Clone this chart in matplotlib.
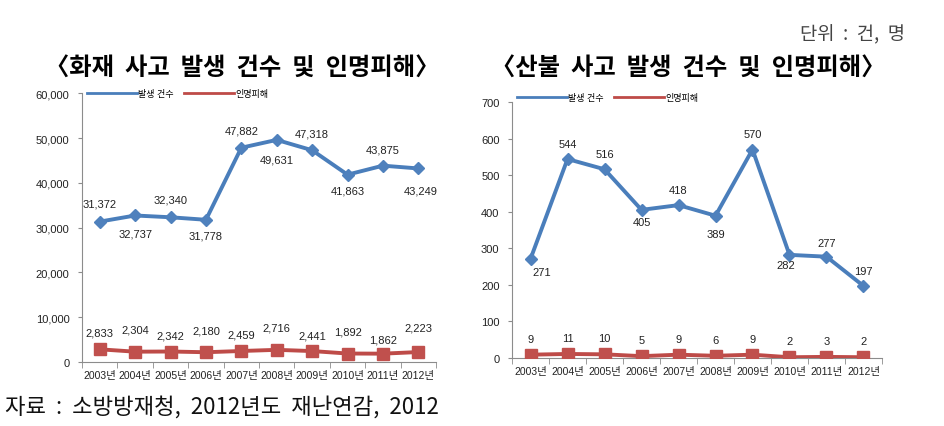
import numpy as np
import matplotlib
matplotlib.use("Agg")
import matplotlib.pyplot as plt
from matplotlib.lines import Line2D

plt.rcParams['font.family'] = ['Liberation Sans', 'Noto Sans CJK KR', 'DejaVu Sans']

years = ["2003년", "2004년", "2005년", "2006년", "2007년",
         "2008년", "2009년", "2010년", "2011년", "2012년"]

# 화재
fire_cases = [31372, 32737, 32340, 31778, 47882, 49631, 47318, 41863, 43875, 43249]
fire_victims = [2833, 2304, 2342, 2180, 2459, 2716, 2441, 1892, 1862, 2223]

# 산불
forest_cases = [271, 544, 516, 405, 418, 389, 570, 282, 277, 197]
forest_victims = [9, 11, 10, 5, 9, 6, 9, 2, 3, 2]

# label offsets (pixels)
fire_case_off = [(0, 18), (0, -18), (0, 18), (0, -16), (0, 17),
                 (0, -20), (0, 17), (0, -16), (0, 16), (2, -22)]
fire_vic_off = [(0, 17), (0, 22), (0, 16), (0, 22), (0, 16),
                (0, 22), (0, 16), (0, 22), (0, 14), (0, 25)]
forest_case_off = [(11, -13), (0, 15), (0, 15), (0, -12), (0, 15),
                   (0, -18), (0, 16), (-4, -10), (0, 14), (0, 15)]
forest_vic_off = [(0, 16)] * 10

BLUE = "#4A7EBB"
BLUE_M = "#4F81BD"
RED = "#BE4B48"
RED_M = "#C0504D"
AX_C = "#8C8C8C"
TXT = "#222222"

fig = plt.figure(figsize=(9.44, 4.27), dpi=100)
ax1 = fig.add_axes([0.0869, 0.1499, 0.375, 0.6288])
ax2 = fig.add_axes([0.5424, 0.1593, 0.3919, 0.5995])


def draw(ax, cases, victims, ymax, ystep, fmt, c_off, v_off, leg_y):
    x = np.arange(len(years))
    ax.plot(x, cases, color=BLUE, lw=2.8, marker="D", ms=6.5,
            mfc=BLUE_M, mec=BLUE_M, zorder=3)
    ax.plot(x, victims, color=RED, lw=2.8, marker="s", ms=8,
            mfc=RED_M, mec=RED_M, zorder=3)
    for xi, v, o in zip(x, cases, c_off):
        ax.annotate(fmt(v), (xi, v), xytext=o, textcoords="offset pixels",
                    ha="center", va="center", fontsize=8, color=TXT)
    for xi, v, o in zip(x, victims, v_off):
        ax.annotate(fmt(v), (xi, v), xytext=o, textcoords="offset pixels",
                    ha="center", va="center", fontsize=8, color=TXT)
    ax.set_xlim(-0.5, len(years) - 0.5)
    ax.set_ylim(0, ymax)
    ax.set_yticks(np.arange(0, ymax + 1, ystep))
    ax.set_yticklabels([fmt(v) for v in np.arange(0, ymax + 1, ystep)])
    ax.set_xticks(x)
    ax.set_xticklabels(years)
    ax.set_xticks(np.arange(-0.5, len(years)), minor=True)
    ax.tick_params(axis="x", which="major", length=0, labelsize=7.5,
                   labelcolor=TXT, pad=6)
    ax.tick_params(axis="x", which="minor", length=4, color=AX_C, direction="out")
    ax.tick_params(axis="y", length=3, color=AX_C, labelsize=8,
                   labelcolor=TXT, direction="out", pad=6)
    for s in ["top", "right"]:
        ax.spines[s].set_visible(False)
    for s in ["left", "bottom"]:
        ax.spines[s].set_color(AX_C)
        ax.spines[s].set_linewidth(0.8)
    handles = [Line2D([], [], color=BLUE, lw=2), Line2D([], [], color=RED, lw=2)]
    ax.legend(handles, ["발생 건수", "인명피해"], loc="center left",
              bbox_to_anchor=(0.0, leg_y), ncol=2, frameon=False,
              fontsize=6.5, handlelength=5.5, handletextpad=0.1,
              columnspacing=1.2, borderaxespad=0.2)


draw(ax1, fire_cases, fire_victims, 60000, 10000, lambda v: f"{int(v):,}",
     fire_case_off, fire_vic_off, 1.0)
draw(ax2, forest_cases, forest_victims, 700, 100, lambda v: f"{int(v)}",
     forest_case_off, forest_vic_off, 1.016)

fig.text(242 / 944, 1 - 68 / 427, "〈화재  사고  발생  건수  및  인명피해〉",
         ha="center", va="center", fontsize=17.5, fontweight="bold",
         family=["Noto Sans CJK KR"])
fig.text(688 / 944, 1 - 68 / 427, "〈산불  사고  발생  건수  및  인명피해〉",
         ha="center", va="center", fontsize=17.5, fontweight="bold",
         family=["Noto Sans CJK KR"])
fig.text(905 / 944, 1 - 35 / 427, "단위  :  건,  명", ha="right", va="center",
         fontsize=13.5, color="#444444", family=["Noto Sans CJK KR"])
fig.text(5 / 944, 1 - 407 / 427, "자료  :  소방방재청,  2012년도  재난연감,  2012",
         ha="left", va="center", fontsize=16, color="#111111",
         family=["Noto Sans CJK KR"])

fig.savefig("out.png", dpi=100)
